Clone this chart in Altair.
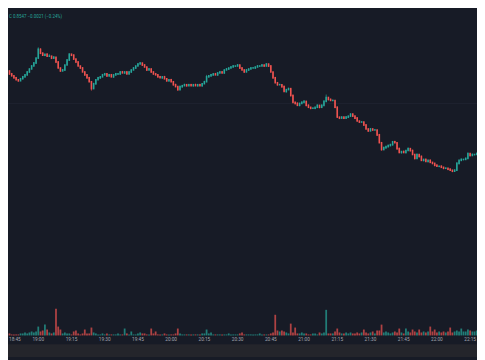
import altair as alt
import pandas as pd

# 1-minute candles, minute index 0 = 18:43
close = [
    0.8629,0.8628,0.8630,0.8631,0.8628,0.8626,0.8624,0.8622,0.8621,0.8623,
    0.8625,0.8627,0.8630,0.8633,0.8636,0.8639,0.8644,0.8653,0.8649,0.8647,
    0.8648,0.8646,0.8646,0.8644,0.8645,0.8640,0.8634,0.8631,0.8632,0.8637,
    0.8642,0.8648,0.8647,0.8643,0.8640,0.8636,0.8634,0.8630,0.8627,0.8624,
    0.8620,0.8613,0.8618,0.8622,0.8624,0.8625,0.8627,0.8628,0.8626,0.8627,
    0.8625,0.8627,0.8628,0.8628,0.8630,0.8629,0.8630,0.8628,0.8630,0.8632,
    0.8634,0.8636,0.8638,0.8639,0.8637,0.8635,0.8632,0.8633,0.8630,0.8628,
    0.8627,0.8625,0.8624,0.8625,0.8623,0.8621,0.8622,0.8620,0.8617,0.8615,
    0.8612,0.8615,0.8616,0.8617,0.8616,0.8617,0.8616,0.8617,0.8616,0.8617,
    0.8616,0.8618,0.8620,0.8625,0.8626,0.8627,0.8628,0.8627,0.8629,0.8630,
    0.8629,0.8632,0.8633,0.8634,0.8635,0.8636,0.8636,0.8637,0.8634,0.8632,
    0.8630,0.8632,0.8633,0.8634,0.8634,0.8635,0.8636,0.8636,0.8637,0.8636,
    0.8638,0.8636,0.8630,0.8624,0.8619,0.8617,0.8617,0.8615,0.8610,0.8612,
    0.8613,0.8606,0.8599,0.8598,0.8596,0.8598,0.8599,0.8600,0.8596,0.8594,
    0.8593,0.8593,0.8594,0.8596,0.8594,0.8596,0.8600,0.8604,0.8602,0.8601,
    0.8601,0.8594,0.8584,0.8583,0.8584,0.8583,0.8584,0.8585,0.8587,0.8585,
    0.8583,0.8580,0.8579,0.8579,0.8576,0.8572,0.8570,0.8572,0.8571,0.8571,
    0.8566,0.8558,0.8551,0.8553,0.8554,0.8555,0.8556,0.8559,0.8558,0.8552,
    0.8548,0.8549,0.8548,0.8550,0.8552,0.8550,0.8546,0.8542,0.8546,0.8544,
    0.8540,0.8541,0.8539,0.8540,0.8538,0.8537,0.8535,0.8534,0.8534,0.8533,
    0.8532,0.8532,0.8531,0.8530,0.8529,0.8530,0.8537,0.8540,0.8541,0.8541,
    0.8542,0.8547,0.8545,0.8546,0.8546,0.8547,
]
first_open = 0.8632

# wick lengths above / below the body, in units of 0.0001
wick_up = [
    1,0,1,1,0,1,0,1,0,1, 1,0,1,0,1,1,0,2,1,1,
    0,1,2,0,1,0,1,0,1,0, 1,1,0,1,0,1,0,1,0,0,
    1,0,1,0,1,0,1,1,0,1, 1,0,1,0,0,1,0,1,1,0,
    1,0,1,1,0,1,0,1,0,0, 1,0,1,0,1,0,0,1,0,1,
    0,1,0,1,0,1,1,0,1,0, 1,0,1,2,0,1,0,1,0,1,
    1,0,1,0,1,1,0,1,0,1, 0,1,0,1,1,0,1,0,1,0,
    1,0,1,0,1,0,1,0,1,0, 1,0,1,0,1,0,1,1,0,1,
    0,1,0,1,0,1,1,3,0,1, 1,0,1,0,1,0,1,0,1,1,
    0,1,0,1,0,1,0,1,0,1, 0,1,0,1,0,1,1,0,1,0,
    1,0,1,0,1,0,1,0,1,0, 1,0,1,0,1,0,0,1,0,1,
    0,1,0,1,0,1,1,0,1,0, 1,1,0,1,0,1,
]
wick_dn = [
    0,1,1,0,1,0,1,0,1,0, 0,1,0,1,0,0,1,0,1,0,
    1,0,0,1,0,1,0,1,0,1, 0,0,1,0,1,0,1,0,1,1,
    0,2,0,1,0,1,0,0,1,0, 0,1,0,1,1,0,1,0,0,1,
    0,1,0,0,1,0,1,0,1,1, 0,1,0,1,0,1,1,0,1,0,
    1,0,1,0,1,0,0,1,0,1, 0,1,0,0,1,0,1,0,1,0,
    0,1,0,1,0,0,1,0,1,0, 1,0,1,0,0,1,0,1,0,1,
    0,1,0,1,0,1,0,1,0,1, 0,1,0,1,0,1,0,0,1,0,
    1,0,1,0,1,0,0,0,1,0, 0,1,0,1,0,1,0,1,0,0,
    1,0,1,0,1,0,1,0,1,0, 1,0,1,0,1,0,0,1,0,1,
    0,1,0,1,0,1,0,1,0,1, 0,1,0,1,0,1,1,0,1,0,
    1,0,1,0,1,0,0,1,0,1, 0,0,1,0,1,0,
]

# volume (thousands)
volume = [
    3,1,1,1,2,1,1,1,1,2, 2,3,2,3,4,3,4,9,4,5,
    11,6,3,2,3,27,9,6,2,3, 2,2,1,4,5,2,1,2,6,2,
    2,8,3,2,1,1,2,1,2,1, 1,1,1,2,1,1,7,2,1,4,
    1,1,2,3,2,2,1,1,7,2, 4,1,1,1,2,1,1,1,1,2,
    7,2,1,1,1,1,1,1,1,1, 1,2,2,6,2,3,1,1,1,1,
    1,1,1,2,1,1,1,1,2,3, 1,1,1,1,1,1,1,2,1,1,
    1,1,2,3,21,5,4,5,4,3, 2,12,3,8,2,2,3,2,2,1,
    1,2,2,1,3,2,3,26,2,2, 2,4,7,3,2,2,3,2,3,2,
    2,3,2,3,6,3,2,3,4,2, 5,5,11,3,4,3,2,3,4,3,
    7,3,2,7,4,3,6,4,3,6, 3,4,3,4,9,4,6,3,4,3,
    4,3,4,8,3,4,5,4,7,4, 4,6,5,4,4,5,
]

tick_minutes = [17, 32, 47, 62, 77, 92, 107, 122, 137, 152, 167, 182, 197, 212]
tick_labels = ["19:00", "19:15", "19:30", "19:45", "20:00", "20:15", "20:30",
               "20:45", "21:00", "21:15", "21:30", "21:45", "22:00", "22:15"]
first_tick_label = ["18:45"]

header_text = ["C 0.8547  −0.0021 (−0.24%)"]

UP = "#26a69a"
DOWN = "#ef5350"
BG = "#171b26"

opens = [first_open] + close[:-1]
rows = []
for i in range(len(close)):
    o, c = opens[i], close[i]
    rows.append(dict(
        m=i, open=o, close=c,
        high=max(o, c) + wick_up[i] * 0.0001,
        low=min(o, c) - wick_dn[i] * 0.0001,
        vol=volume[i], v0=0,
        dir="up" if c >= o else "down",
    ))
df = pd.DataFrame(rows)
ticks = pd.DataFrame({"m": tick_minutes, "label": tick_labels})

W, H = 477, 352
xs = alt.Scale(domain=[3.33, 215.1], nice=False, zero=False)
ps = alt.Scale(domain=[0.8340, 0.8692], nice=False, zero=False)
vs = alt.Scale(domain=[-22, 330], nice=False, zero=False)
col = alt.Color("dir:N", scale=alt.Scale(domain=["up", "down"], range=[UP, DOWN]), legend=None)

base = alt.Chart(df)

strip = alt.Chart(pd.DataFrame({"a": [0]})).mark_rect(color="#24252b").encode(
    x=alt.value(0), x2=alt.value(W), y=alt.value(339), y2=alt.value(H)
)
grid = alt.Chart(pd.DataFrame({"a": [0]})).mark_rule(color="#1f2430", strokeWidth=1).encode(
    x=alt.value(0), x2=alt.value(W), y=alt.value(94)
)

vol = base.mark_rule(strokeWidth=1.8, opacity=0.7).encode(
    x=alt.X("m:Q", scale=xs, axis=None),
    y=alt.Y("vol:Q", scale=vs, axis=None),
    y2="v0:Q",
    color=col,
)
wicks = base.mark_rule(strokeWidth=0.7).encode(
    x=alt.X("m:Q", scale=xs, axis=None),
    y=alt.Y("low:Q", scale=ps, axis=None),
    y2="high:Q",
    color=col,
)
bodies = base.mark_rule(strokeWidth=1.6, strokeCap="square").encode(
    x=alt.X("m:Q", scale=xs, axis=None),
    y=alt.Y("open:Q", scale=ps, axis=None),
    y2="close:Q",
    color=col,
)
labels = alt.Chart(ticks).mark_text(
    fontSize=4.8, color="#a3a6af", font="Roboto", baseline="middle", align="center"
).encode(
    x=alt.X("m:Q", scale=xs, axis=None),
    y=alt.value(335),
    text="label:N",
)
first_label = alt.Chart(pd.DataFrame({"t": first_tick_label})).mark_text(
    fontSize=4.8, color="#a3a6af", font="Roboto", baseline="middle", align="left"
).encode(x=alt.value(1), y=alt.value(335), text="t:N")

header = alt.Chart(pd.DataFrame({"t": header_text})).mark_text(
    fontSize=4.5, color=UP, font="Roboto", baseline="middle", align="left"
).encode(
    x=alt.value(1), y=alt.value(6), text="t:N"
)

chart = (
    alt.layer(strip, grid, vol, wicks, bodies, labels, first_label, header)
    .resolve_scale(y="independent")
    .properties(width=W, height=H, padding=0, background=BG,
                autosize=alt.AutoSizeParams(type="none"))
    .configure_view(stroke=None, fill=BG)
)

chart.save("out.html", embed_options={"renderer": "svg", "actions": False})
